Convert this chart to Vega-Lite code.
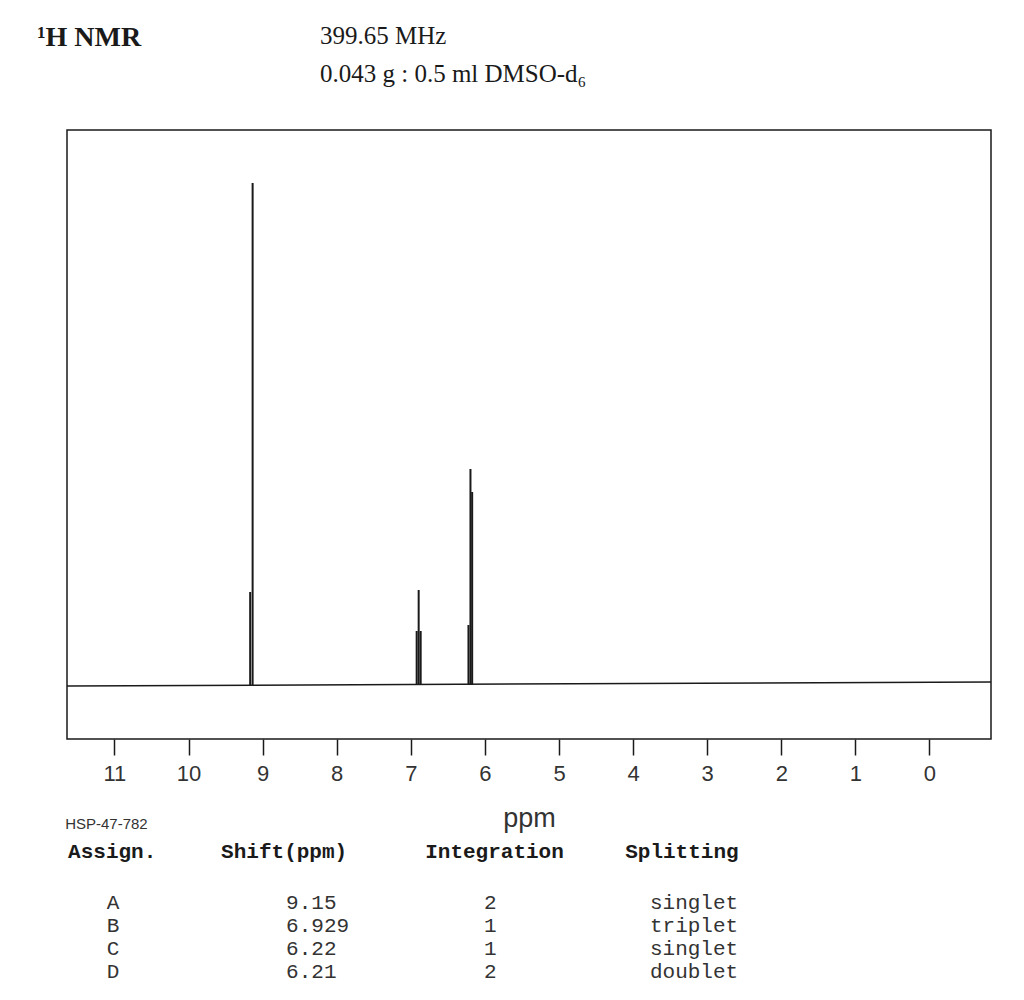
{
  "$schema": "https://vega.github.io/schema/vega-lite/v6.json",
  "width": 924,
  "height": 609,
  "autosize": "none",
  "padding": {"left": 67, "top": 130, "right": 33, "bottom": 261},
  "background": "white",
  "config": {"view": {"stroke": "#1a1a1a", "strokeWidth": 1.5}},
  "datasets": {
    "peaks": [
      {"ppm": 9.135, "intensity": 502},
      {"ppm": 9.168, "intensity": 93},
      {"ppm": 6.894, "intensity": 95},
      {"ppm": 6.921, "intensity": 54},
      {"ppm": 6.867, "intensity": 54},
      {"ppm": 6.195, "intensity": 216},
      {"ppm": 6.172, "intensity": 193},
      {"ppm": 6.222, "intensity": 60}
    ],
    "assignments": [
      {"assign": "A", "shift": "9.15", "integration": "2", "splitting": "singlet"},
      {"assign": "B", "shift": "6.929", "integration": "1", "splitting": "triplet"},
      {"assign": "C", "shift": "6.22", "integration": "1", "splitting": "singlet"},
      {"assign": "D", "shift": "6.21", "integration": "2", "splitting": "doublet"}
    ]
  },
  "resolve": {"scale": {"y": "independent"}, "axis": {"y": "independent"}},
  "layer": [
    {
      "layer": [
        {
          "data": {"name": "peaks"},
          "mark": {"type": "rule", "color": "#1a1a1a", "strokeWidth": 2},
          "encoding": {
            "x": {
              "field": "ppm", "type": "quantitative",
              "scale": {"domain": [-0.83, 11.64], "reverse": true, "nice": false, "zero": false},
              "axis": {
                "title": "ppm",
                "values": [0, 0.5, 1, 1.5, 2, 2.5, 3, 3.5, 4, 4.5, 5, 5.5, 6, 6.5, 7, 7.5, 8, 8.5, 9, 9.5, 10, 10.5, 11],
                "format": "d",
                "labelExpr": "datum.value % 1 === 0 ? datum.label : ''",
                "tickSize": {"condition": {"test": "datum.value % 1 === 0", "value": 16}, "value": 9},
                "tickColor": "#1a1a1a",
                "tickWidth": 1.5,
                "domain": false,
                "grid": false,
                "labelFont": "Liberation Sans",
                "labelFontSize": 22,
                "labelColor": "#333",
                "labelPadding": 8,
                "labelOverlap": false,
                "labelFlush": false,
                "titleFont": "Liberation Sans",
                "titleFontSize": 27,
                "titleFontWeight": "normal",
                "titleColor": "#333",
                "titlePadding": 21
              }
            },
            "y": {
              "field": "intensity", "type": "quantitative",
              "scale": {"domain": [-54, 555], "nice": false, "zero": false},
              "axis": null
            },
            "y2": {"datum": 0}
          }
        },
        {
          "data": {"values": [{}]},
          "mark": {"type": "rule", "color": "#1a1a1a", "strokeWidth": 1.5},
          "encoding": {
            "x": {"datum": 11.64, "type": "quantitative"},
            "x2": {"datum": -0.83},
            "y": {"datum": -1, "type": "quantitative"},
            "y2": {"datum": 3}
          }
        },
        {
          "data": {"values": [{"label": "¹H NMR"}]},
          "mark": {"type": "text", "align": "left", "baseline": "alphabetic", "font": "Liberation Serif", "fontSize": 28, "fontWeight": "bold", "color": "#1a1a1a"},
          "encoding": {
            "x": {"datum": 12.043, "type": "quantitative"},
            "y": {"datum": 639, "type": "quantitative"},
            "text": {"field": "label"}
          }
        },
        {
          "data": {"values": [{"label": "399.65 MHz"}]},
          "mark": {"type": "text", "align": "left", "baseline": "alphabetic", "font": "Liberation Serif", "fontSize": 25, "color": "#1a1a1a"},
          "encoding": {
            "x": {"datum": 8.226, "type": "quantitative"},
            "y": {"datum": 641, "type": "quantitative"},
            "text": {"field": "label"}
          }
        },
        {
          "data": {"values": [{"label": "0.043 g : 0.5 ml DMSO-d₆"}]},
          "mark": {"type": "text", "align": "left", "baseline": "alphabetic", "font": "Liberation Serif", "fontSize": 25, "color": "#1a1a1a"},
          "encoding": {
            "x": {"datum": 8.226, "type": "quantitative"},
            "y": {"datum": 603, "type": "quantitative"},
            "text": {"field": "label"}
          }
        },
        {
          "data": {"values": [{"label": "HSP-47-782"}]},
          "mark": {"type": "text", "align": "left", "baseline": "alphabetic", "font": "Liberation Sans", "fontSize": 15, "color": "#333"},
          "encoding": {
            "x": {"datum": 11.665, "type": "quantitative"},
            "y": {"datum": -144, "type": "quantitative"},
            "text": {"field": "label"}
          }
        },
        {
          "data": {"values": [{"label": "Assign."}]},
          "mark": {"type": "text", "align": "left", "baseline": "alphabetic", "font": "Liberation Mono", "fontSize": 21, "fontWeight": "bold", "color": "#1a1a1a"},
          "encoding": {"x": {"datum": 11.625, "type": "quantitative"}, "y": {"datum": -173, "type": "quantitative"}, "text": {"field": "label"}}
        },
        {
          "data": {"values": [{"label": "Shift(ppm)"}]},
          "mark": {"type": "text", "align": "left", "baseline": "alphabetic", "font": "Liberation Mono", "fontSize": 21, "fontWeight": "bold", "color": "#1a1a1a"},
          "encoding": {"x": {"datum": 9.56, "type": "quantitative"}, "y": {"datum": -173, "type": "quantitative"}, "text": {"field": "label"}}
        },
        {
          "data": {"values": [{"label": "Integration"}]},
          "mark": {"type": "text", "align": "left", "baseline": "alphabetic", "font": "Liberation Mono", "fontSize": 21, "fontWeight": "bold", "color": "#1a1a1a"},
          "encoding": {"x": {"datum": 6.806, "type": "quantitative"}, "y": {"datum": -173, "type": "quantitative"}, "text": {"field": "label"}}
        },
        {
          "data": {"values": [{"label": "Splitting"}]},
          "mark": {"type": "text", "align": "left", "baseline": "alphabetic", "font": "Liberation Mono", "fontSize": 21, "fontWeight": "bold", "color": "#1a1a1a"},
          "encoding": {"x": {"datum": 4.107, "type": "quantitative"}, "y": {"datum": -173, "type": "quantitative"}, "text": {"field": "label"}}
        }
      ]
    },
    {
      "data": {"name": "assignments"},
      "encoding": {
        "y": {"field": "assign", "type": "nominal", "sort": null, "scale": {"type": "point", "domain": ["A", "B", "C", "D"], "range": [779, 848], "padding": 0}, "axis": null}
      },
      "layer": [
        {
          "mark": {"type": "text", "align": "center", "baseline": "alphabetic", "font": "Liberation Mono", "fontSize": 21, "color": "#333"},
          "encoding": {"x": {"datum": 11.018, "type": "quantitative"}, "text": {"field": "assign"}}
        },
        {
          "mark": {"type": "text", "align": "left", "baseline": "alphabetic", "font": "Liberation Mono", "fontSize": 21, "color": "#333"},
          "encoding": {"x": {"datum": 8.683, "type": "quantitative"}, "text": {"field": "shift"}}
        },
        {
          "mark": {"type": "text", "align": "center", "baseline": "alphabetic", "font": "Liberation Mono", "fontSize": 21, "color": "#333"},
          "encoding": {"x": {"datum": 5.929, "type": "quantitative"}, "text": {"field": "integration"}}
        },
        {
          "mark": {"type": "text", "align": "right", "baseline": "alphabetic", "font": "Liberation Mono", "fontSize": 21, "color": "#333"},
          "encoding": {"x": {"datum": 2.582, "type": "quantitative"}, "text": {"field": "splitting"}}
        }
      ]
    }
  ]
}
